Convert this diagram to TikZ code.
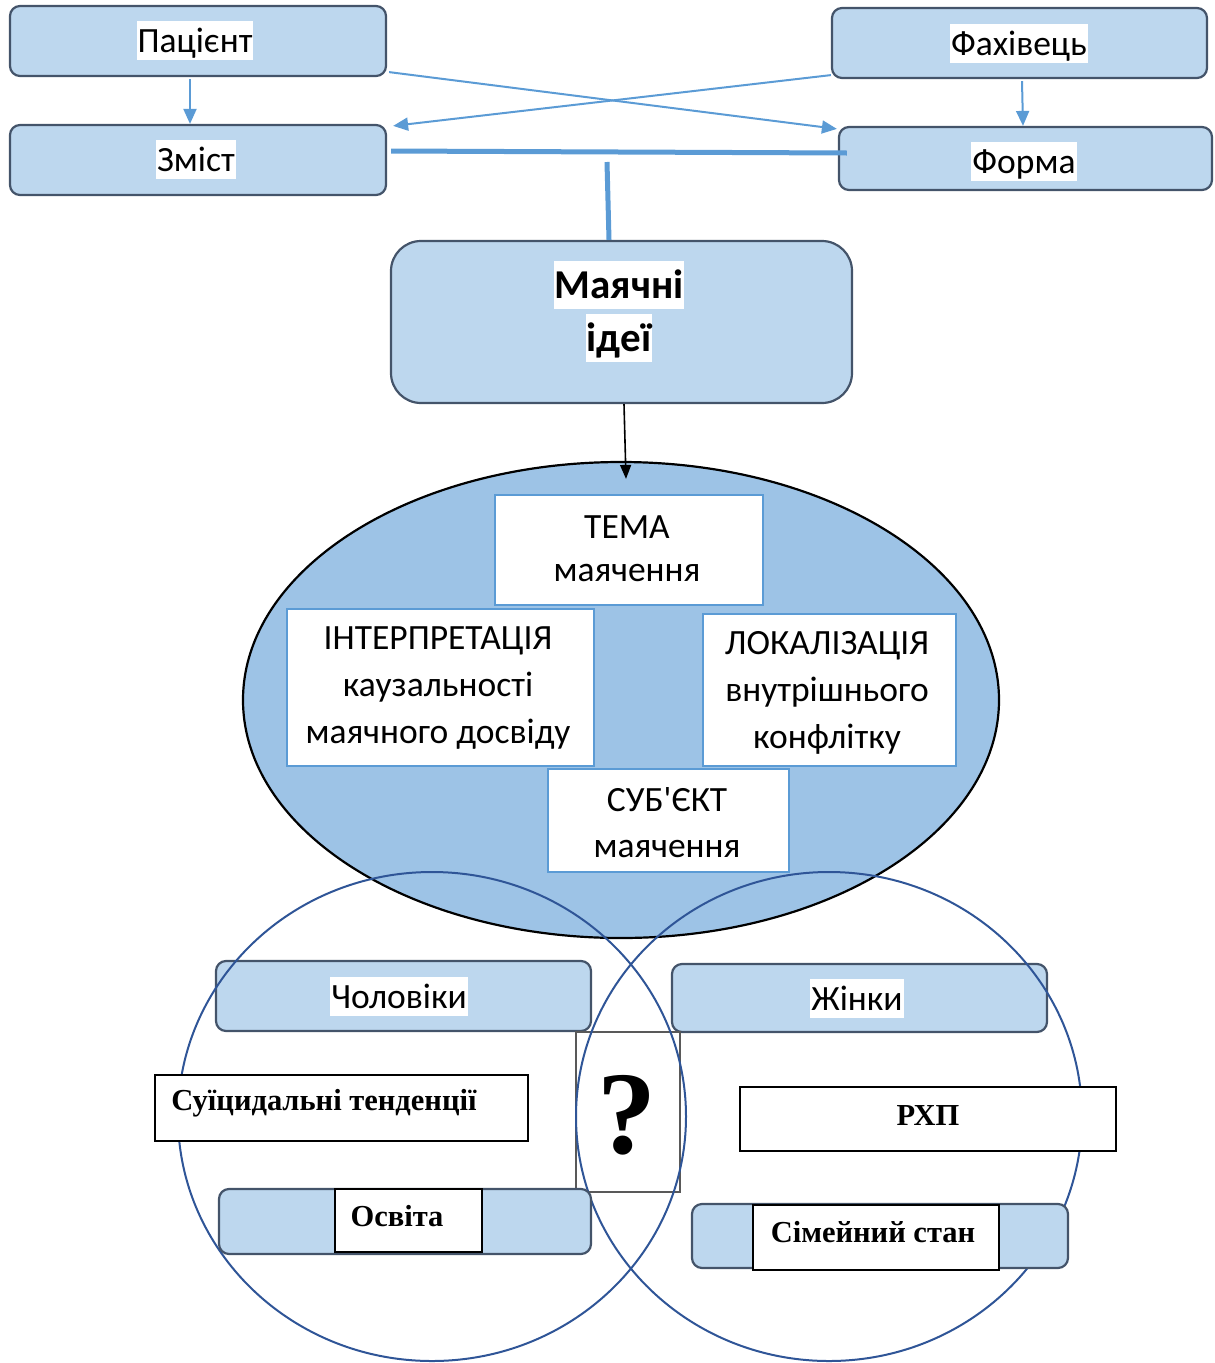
\documentclass[tikz,border=0pt]{standalone}
\usepackage{fontspec}
\setmainfont{Carlito}
\newfontfamily\tnr{Liberation Serif}
\usetikzlibrary{arrows.meta,shapes.geometric}
\definecolor{boxfill}{HTML}{BDD7EE}
\definecolor{boxline}{HTML}{44546A}
\definecolor{ellfill}{HTML}{9DC3E6}
\definecolor{arrblue}{HTML}{5B9BD5}
\definecolor{circline}{HTML}{2F5597}
\definecolor{qline}{HTML}{595959}
\begin{document}
\begin{tikzpicture}[x=1pt,y=-1pt,
  bluebox/.style={draw=boxline, line width=2.2pt, fill=boxfill, rounded corners=10pt, inner sep=0pt},
  hl/.style={fill=white, inner sep=0pt, inner xsep=1pt, text height=32pt, text depth=7pt, font=\fontsize{35.5}{40}\selectfont},
  hlb/.style={fill=white, inner sep=0pt, inner xsep=1pt, text height=38pt, text depth=10pt, font=\bfseries\fontsize{41}{46}\selectfont},
  whitebox/.style={draw=arrblue, line width=2pt, fill=white, inner sep=0pt},
  itxt/.style={align=center, inner sep=0pt},
  serifbox/.style={draw=black, line width=1.5pt, fill=white, inner sep=0pt},
  stxt/.style={font=\tnr\bfseries\fontsize{30.5}{35}\selectfont, inner sep=0pt},
  bluearr/.style={draw=arrblue, line width=2pt, -{Triangle[length=15pt,width=13pt]}},
  thickline/.style={draw=arrblue, line width=5pt},
  circ/.style={draw=circline, line width=2pt, ellipse, inner sep=0pt}
]
\useasboundingbox (0,0) rectangle (1215,1363);

% top boxes
\node[bluebox, minimum width=376pt, minimum height=70pt] (pac) at (198,41) {};
\node[hl] (pact) at (195,40) {Пацієнт};
\node[bluebox, minimum width=375pt, minimum height=70pt] (fah) at (1019.5,43) {};
\node[hl] (faht) at (1019,43) {Фахівець};
\node[bluebox, minimum width=376pt, minimum height=70pt] (zm) at (198,160) {};
\node[hl] (zmt) at (196,159) {Зміст};
\node[bluebox, minimum width=373pt, minimum height=63pt] (form) at (1025.5,158.5) {};
\node[hl] (formt) at (1024,161) {Форма};

% arrows
\draw[bluearr] ([xshift=-8pt,yshift=-2pt]pac.south) -- ([xshift=-8pt]zm.north);
\draw[bluearr] ([xshift=2.5pt,yshift=-2pt]fah.south) -- ([xshift=-2.5pt]form.north);
\draw[bluearr] ([xshift=2pt,yshift=5pt]pac.south east) -- ([xshift=-1pt,yshift=-3pt]form.north west);
\draw[bluearr] ([yshift=4pt]fah.south west) -- ([xshift=6pt,yshift=-2pt]zm.north east);
\draw[thickline] ([xshift=4pt,yshift=9pt]zm.east) -- ([xshift=9pt,yshift=5.5pt]form.west);

% main idea box
\node[bluebox, rounded corners=30pt, minimum width=461pt, minimum height=162pt] (mi) at (621.5,322) {};
\coordinate (tj) at (607,162);
\draw[thickline] (tj) -- ([xshift=-12.5pt]mi.north);
\node[hlb] (mi1) at (619,284.5) {Маячні};
\node[hlb] (mi2) at (619,337.5) {ідеї};

% ellipse
\node[ellipse, draw=black, line width=2.2pt, fill=ellfill, minimum width=756pt, minimum height=476pt, inner sep=0pt] (ell) at (621,700) {};
\draw[black, line width=1.6pt, -{Triangle[length=14pt,width=11pt]}] ([xshift=2.5pt]mi.south) -- ([xshift=5pt,yshift=-18pt]ell.north);

\node[whitebox, minimum width=268pt, minimum height=110pt] (tema) at (629,550) {};
\node[itxt, font=\fontsize{35.5}{43}\selectfont] (temat) at (627,548.5) {ТЕМА\\маячення};
\node[whitebox, minimum width=307pt, minimum height=157pt] (intr) at (440.5,687.5) {};
\node[itxt, font=\fontsize{35.5}{47}\selectfont] (intrt) at (438,688) {ІНТЕРПРЕТАЦІЯ\\каузальності\\маячного досвіду};
\node[whitebox, minimum width=253pt, minimum height=152pt] (lok) at (829.5,690) {};
\node[itxt, font=\fontsize{35.5}{47}\selectfont] (lokt) at (827,693) {ЛОКАЛІЗАЦІЯ\\внутрішнього\\конфлітку};
\node[whitebox, minimum width=241pt, minimum height=103pt] (sub) at (668.5,820.5) {};
\node[itxt, font=\fontsize{35.5}{46}\selectfont] (subt) at (667,823) {СУБ\textquotesingle ЄКТ\\маячення};

% lower boxes under circles
\node[bluebox, minimum width=375pt, minimum height=70pt] (men) at (403.5,996) {};
\node[hl] (ment) at (399,996) {Чоловіки};
\node[bluebox, minimum width=375pt, minimum height=68pt] (wom) at (859.5,998) {};
\node[hl] (womt) at (857,998) {Жінки};
\node[draw=qline, line width=1.2pt, fill=white, minimum width=104pt, minimum height=160pt, inner sep=0pt] (q) at (628,1112) {};
\node[font=\tnr\bfseries\fontsize{118}{120}\selectfont, inner sep=0pt] (qt) at (627,1115) {?};

% circles
\node[circ, minimum width=508pt, minimum height=489pt] (lc) at (432,1116.5) {};
\node[circ, minimum width=506pt, minimum height=489pt] (rc) at (829,1116.5) {};

% boxes over circles
\node[serifbox, minimum width=373pt, minimum height=66pt] (sui) at (341.5,1108) {};
\node[stxt] (suit) at (324,1103) {Суїцидальні тенденції};
\node[bluebox, minimum width=372pt, minimum height=65pt] (osv) at (405,1221.5) {};
\node[serifbox, line width=1.2pt, minimum width=147pt, minimum height=63pt] (osvi) at (408.5,1220.5) {};
\node[stxt] (osvt) at (397,1216) {Освіта};
\node[serifbox, minimum width=376pt, minimum height=64pt] (rxp) at (928,1119) {};
\node[stxt] (rxpt) at (928,1115) {РХП};
\node[bluebox, minimum width=376pt, minimum height=64pt] (sim) at (880,1236) {};
\node[serifbox, line width=1.2pt, minimum width=246pt, minimum height=65pt] (simi) at (876,1237.5) {};
\node[stxt] (simt) at (873,1232) {Сімейний стан};
\end{tikzpicture}
\end{document}
